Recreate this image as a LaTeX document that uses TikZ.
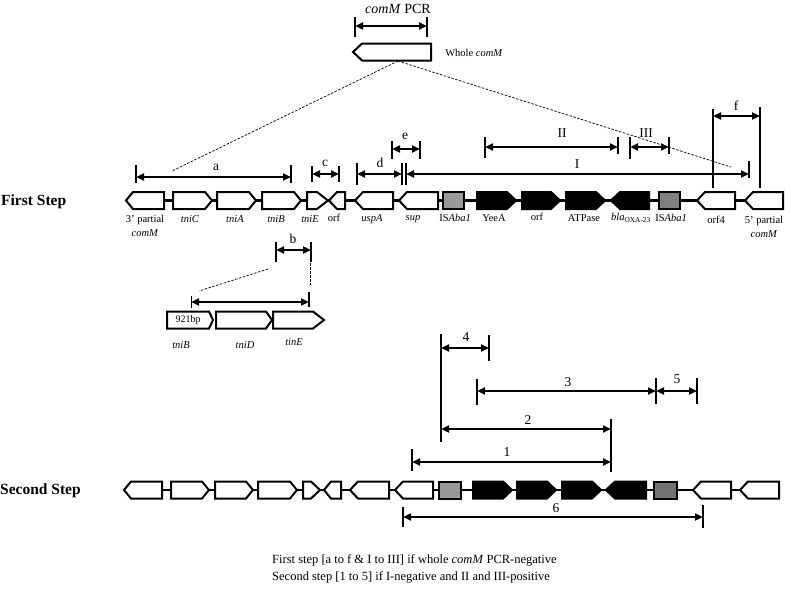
\documentclass[tikz,border=0pt]{standalone}
\usepackage{fontspec}
\setmainfont{Liberation Serif}
\usetikzlibrary{arrows.meta}
\newcommand\geneR[5]{\draw[genebox,fill=#5] (#1,#3-8.5) -- (#2-#4,#3-8.5) -- (#2,#3) -- (#2-#4,#3+8.5) -- (#1,#3+8.5) -- cycle;}
\newcommand\geneL[5]{\draw[genebox,fill=#5] (#2,#3-8.5) -- (#1+#4,#3-8.5) -- (#1,#3) -- (#1+#4,#3+8.5) -- (#2,#3+8.5) -- cycle;}
\newcommand\isbox[4]{\draw[genebox,fill=#4] (#1,#3-8.5) rectangle (#2,#3+8.5);}
\newcommand\tk[3]{\draw[tick] (#1,#2) -- (#1,#3);}
\begin{document}
\begin{tikzpicture}[x=1pt,y=-1pt,
  genebox/.style={draw=black,line width=2pt,line join=miter},
  backbone/.style={line width=2.4pt},
  tick/.style={line width=2pt},
  dim/.style={line width=2pt,{Triangle[length=8pt,width=7pt]}-{Triangle[length=8pt,width=7pt]}},
  guide/.style={line width=0.7pt,dash pattern=on 2.5pt off 1.5pt},
  glabel/.style={font=\fontsize{10.5}{14}\selectfont,inner sep=0pt,align=center},
  blabel/.style={font=\fontsize{13.5}{15}\selectfont,inner sep=0pt},
  steplabel/.style={font=\fontsize{15.5}{17}\selectfont\bfseries,inner sep=0pt,anchor=west},
  note/.style={font=\fontsize{12.5}{15}\selectfont,inner sep=0pt,anchor=base west}]
\useasboundingbox (0,0) rectangle (785,589);

% ---------- top: whole comM ----------
\node[blabel,font=\fontsize{14}{16}\selectfont] (pcr) at (398,9) {\textit{comM} PCR};
\tk{355}{17}{37}
\tk{427}{17}{37}
\draw[dim] (355,26) -- (427,26);
\geneL{353}{431}{52}{9}{white}
\node[glabel] (whole) at (474,53) {Whole \textit{comM}};
\coordinate (wc) at (398,61);
\coordinate (wl) at (172,171);
\coordinate (wr) at (731,167);
\draw[guide] (wc) -- (wl);
\draw[guide] (wc) -- (wr);

% ---------- first step ----------
\node[steplabel] (s1) at (1,202) {First Step};
\draw[backbone] (127,200.5) -- (782,200.5);
\geneL{126}{164}{200.5}{7}{white}
\geneR{173}{212}{200.5}{7}{white}
\geneR{217}{256}{200.5}{7}{white}
\geneR{262}{301}{200.5}{7}{white}
\geneR{307}{328}{200.5}{11}{white}
\geneL{329}{345}{200.5}{8}{white}
\geneL{355}{393}{200.5}{8}{white}
\geneL{399}{438}{200.5}{8}{white}
\isbox{443}{464}{200.5}{gray!80}
\geneR{477}{516}{200.5}{9}{black}
\geneR{522}{560}{200.5}{9}{black}
\geneR{566}{605}{200.5}{9}{black}
\geneL{611}{649}{200.5}{9}{black}
\isbox{659}{680}{200.5}{gray}
\geneL{697}{735}{200.5}{8}{white}
\geneL{745}{783}{200.5}{8}{white}

\node[glabel] (l1) at (145,226) {3' partial\\\textit{comM}};
\node[glabel] (l2) at (190,219) {\textit{tniC}};
\node[glabel] (l3) at (235,219) {\textit{tniA}};
\node[glabel] (l4) at (276,219) {\textit{tniB}};
\node[glabel] (l5) at (310,219) {\textit{tniE}};
\node[glabel] (l6) at (334,218) {orf};
\node[glabel] (l7) at (372,219) {\textit{uspA}};
\node[glabel] (l8) at (413,219) {\textit{sup}};
\node[glabel] (l9) at (455,218) {IS\textit{Aba1}};
\node[glabel] (l10) at (494,218) {YeeA};
\node[glabel] (l11) at (537,217) {orf};
\node[glabel] (l12) at (584,218) {ATPase};
\node[glabel] (l13) at (631,218) {\textit{bla}\textsubscript{OXA-23}};
\node[glabel] (l14) at (671,218) {IS\textit{Aba1}};
\node[glabel] (l15) at (716,220) {orf4};
\node[glabel] (l16) at (764,227) {5' partial\\\textit{comM}};

% bar a
\tk{136}{165}{183}
\tk{291}{165}{183}
\draw[dim] (136,177) -- (291,177);
\node[blabel] (ba) at (216,167) {a};
% bar c
\tk{312}{166}{182}
\tk{339}{166}{182}
\draw[dim] (312,174) -- (339,174);
\node[blabel] (bc) at (325,163) {c};
% bar d
\tk{357}{163}{185}
\tk{402}{163}{185}
\draw[dim] (357,174) -- (402,174);
\node[blabel] (bd) at (380,163) {d};
% bar e
\tk{392}{141}{159}
\tk{420}{141}{159}
\draw[dim] (392,149) -- (420,149);
\node[blabel] (be) at (405,136) {e};
% bar I
\tk{406}{163}{185}
\tk{749}{161}{178}
\draw[dim] (406,174) -- (749,174);
\node[blabel] (bI) at (577,164) {I};
% bar II
\tk{485}{137}{158}
\tk{618}{137}{154}
\draw[dim] (485,147) -- (618,147);
\node[blabel] (bII) at (562,133) {II};
% bar III
\tk{630}{137}{159}
\tk{669}{137}{154}
\draw[dim] (630,147) -- (669,147);
\node[blabel] (bIII) at (646,133) {III};
% bar f
\tk{713}{109}{188}
\tk{760}{107}{188}
\draw[dim] (713,116) -- (760,116);
\node[blabel] (bf) at (736,106) {f};

% bar b and inset
\tk{276}{242}{262}
\tk{311}{242}{262}
\draw[dim] (276,250) -- (311,250);
\node[blabel] (bb) at (293,239) {b};
\coordinate (bl1) at (268,269);
\coordinate (bl2) at (199,291);
\coordinate (br1) at (310,263);
\coordinate (br2) at (310,285);
\draw[guide] (bl1) -- (bl2);
\draw[guide] (br1) -- (br2);
\draw[tick,line width=1pt] (191,296) -- (191,308);
\tk{309}{292}{307}
\draw[dim] (191,302) -- (309,302);
\geneR{167}{213}{320}{4}{white}
\geneR{216}{272}{320}{6}{white}
\geneR{273}{324}{320}{11}{white}
\node[glabel,font=\fontsize{10}{12}\selectfont] (bp) at (188,320) {921bp};
\node[glabel] (m1) at (181,345) {\textit{tniB}};
\node[glabel] (m2) at (245,345) {\textit{tniD}};
\node[glabel] (m3) at (294,342) {\textit{tinE}};

% ---------- second step ----------
\node[steplabel] (s2) at (0,491) {Second Step};
\draw[backbone] (125,490) -- (778,490);
\geneL{124}{162}{490}{7}{white}
\geneR{171}{209}{490}{7}{white}
\geneR{215}{253}{490}{7}{white}
\geneR{258}{297}{490}{7}{white}
\geneR{303}{320}{490}{9}{white}
\geneL{324}{341}{490}{7}{white}
\geneL{350}{389}{490}{8}{white}
\geneL{395}{433}{490}{8}{white}
\isbox{439}{461}{490}{gray!80}
\geneR{473}{512}{490}{9}{black}
\geneR{517}{556}{490}{9}{black}
\geneR{562}{601}{490}{9}{black}
\geneL{606}{646}{490}{9}{black}
\isbox{654}{677}{490}{black!55}
\geneL{693}{731}{490}{8}{white}
\geneL{740}{779}{490}{8}{white}

% long verticals
\tk{441}{334}{442}
\tk{611}{419}{472}
% bar 4
\tk{489}{335}{361}
\draw[dim] (441,348) -- (489,348);
\node[blabel] (n4) at (466,337) {4};
% bar 3
\tk{477}{379}{405}
\tk{656}{378}{404}
\draw[dim] (477,391) -- (656,391);
\node[blabel] (n3) at (568,382) {3};
% bar 5
\tk{697}{378}{404}
\draw[dim] (656,391) -- (697,391);
\node[blabel] (n5) at (677,379) {5};
% bar 2
\draw[dim] (441,429) -- (611,429);
\node[blabel] (n2) at (528,420) {2};
% bar 1
\tk{412}{449}{471}
\draw[dim] (412,462) -- (611,462);
\node[blabel] (n1) at (507,452) {1};
% bar 6
\tk{403}{507}{527}
\tk{703}{505}{528}
\draw[dim] (403,517) -- (703,517);
\node[blabel] (n6) at (556,508) {6};

% ---------- notes ----------
\node[note] (t1) at (272,563) {First step [a to f \& I to III] if whole \textit{comM} PCR-negative};
\node[note] (t2) at (272,580) {Second step [1 to 5] if I-negative and II and III-positive};
\end{tikzpicture}
\end{document}
